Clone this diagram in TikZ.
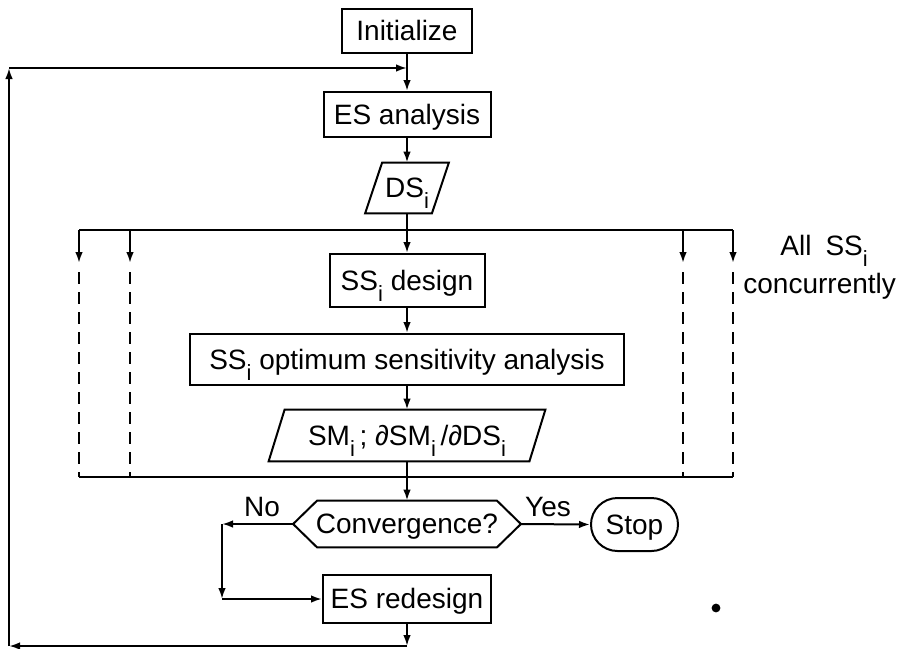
\documentclass[tikz,border=0pt]{standalone}
\usepackage{fontspec}
\setmainfont{Liberation Sans}
\usetikzlibrary{arrows.meta,shapes.misc}

% lowered subscript i as printed in the chart
\newcommand{\idx}{\raisebox{-5.5pt}[0pt][0pt]{\fontsize{11}{11}\selectfont i}}

\tikzset{
  textonly/.style={inner sep=0pt, font=\fontsize{14}{16}\selectfont,
    text height=10pt, text depth=0.5pt},
  procbox/.style={textonly, draw, line width=1pt},
  line/.style={line width=1pt},
  arr/.style={line, -{Latex[length=5.5pt,width=3.8pt]}},
  dashline/.style={line, dash pattern=on 6pt off 4pt},
}

\begin{document}
\begin{tikzpicture}[x=0.5pt, y=-0.5pt]
\useasboundingbox (0,0) rectangle (908,648);

% main column
\node[procbox, minimum width=65pt, minimum height=22pt] (init) at (407,31) {Initialize};
\node[procbox, minimum width=83.5pt, minimum height=22.5pt] (esa) at (407,114.5) {ES analysis};
\node[textonly, minimum width=33pt, minimum height=25pt] (ds) at (407,188) {DS\idx};
\draw[line] ([xshift=-4.25pt]ds.south west) -- ([xshift=4.25pt]ds.north west)
  -- ([xshift=4.25pt]ds.north east) -- ([xshift=-4.25pt]ds.south east) -- cycle;
\node[procbox, minimum width=77.5pt, minimum height=26.5pt] (ssd) at (407,280.5) {SS\idx{} design};
\node[procbox, minimum width=217pt, minimum height=25.5pt] (sso) at (407,359.5) {SS\idx{} optimum sensitivity analysis};
\node[textonly, minimum width=130pt, minimum height=25.5pt] (sm) at (407,435.5) {SM\idx\,;\ ∂SM\idx\,/∂DS\idx};
\draw[line] ([xshift=-4pt]sm.south west) -- ([xshift=4pt]sm.north west)
  -- ([xshift=4pt]sm.north east) -- ([xshift=-4pt]sm.south east) -- cycle;
\node[textonly, minimum width=113.5pt, minimum height=23pt] (conv) at (407,524) {Convergence?};
\draw[line] ([xshift=12pt]conv.north west) -- ([xshift=-12pt]conv.north east) -- (conv.east)
  -- ([xshift=-12pt]conv.south east) -- ([xshift=12pt]conv.south west) -- (conv.west) -- cycle;
\node[procbox, rounded rectangle, minimum width=43.5pt, minimum height=26.5pt] (stop) at (634.5,524.5) {Stop};
\node[procbox, minimum width=84pt, minimum height=24pt] (red) at (407,599) {ES redesign};

% labels
\node[textonly] (no) at (262,507) {No};
\node[textonly] (yes) at (548,507) {Yes};
\node[textonly, anchor=base west] (all) at (780,255) {All\hspace{7pt}SS\idx};
\node[textonly, anchor=base west] (conc) at (743,293) {concurrently};

% concurrent frame
\foreach \x [count=\k] in {79,130,683,733} {
  \coordinate (top\k) at (\x,230);
  \coordinate (tip\k) at (\x,263);
  \coordinate (dsh\k) at (\x,272);
  \coordinate (bot\k) at (\x,477);
  \draw[arr] (top\k) -- (tip\k);
  \draw[dashline] (dsh\k) -- (bot\k);
}
\draw[line] (top1) -- (top4);
\draw[line] (bot1) -- (bot4);

% flow
\draw[arr] (init.south) -- (esa.north);
\draw[arr] (esa.south) -- (ds.north);
\draw[arr] (ds.south) -- (ssd.north);
\draw[arr] (ssd.south) -- (sso.north);
\draw[arr] (sso.south) -- (sm.north);
\draw[arr] (sm.south) -- (conv.north);
\draw[arr] (conv.east) -- (stop.west);

% no branch
\coordinate (nc) at (222,524);
\coordinate (nb) at (222,599);
\draw[arr] (conv.west) -- (nc);
\draw[arr] (nc) -- (nb);
\draw[arr] (nb) -- (red.west);

% feedback loop
\coordinate (rb) at (407,646);
\coordinate (lb) at (9,646);
\coordinate (lt) at (9,68);
\coordinate (jt) at (407,68);
\draw[arr] (red.south) -- (rb);
\draw[arr] (rb) -- (lb);
\draw[arr] (lb) -- (lt);
\draw[arr] (lt) -- (jt);

\fill (716,608) circle[radius=2.2pt];
\end{tikzpicture}
\end{document}
